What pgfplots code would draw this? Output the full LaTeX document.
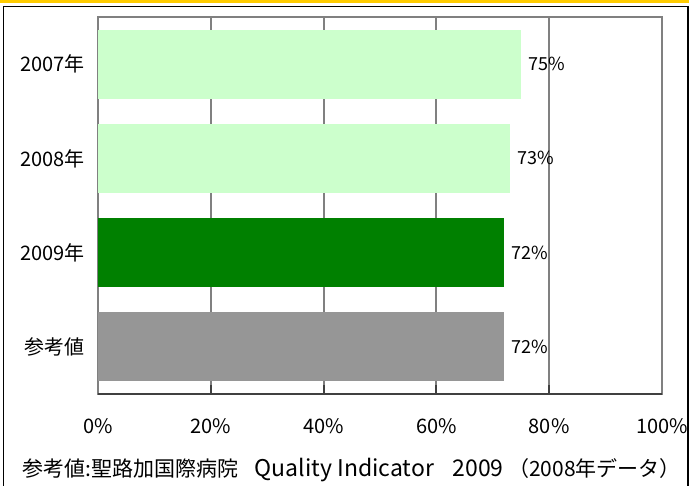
\documentclass[border=0pt]{standalone}
\usepackage{pgfplots}
\pgfplotsset{compat=1.18}
\usepackage{fontspec}
\setmainfont{Noto Sans CJK JP}
\definecolor{lgreen}{HTML}{CCFFCC}
\definecolor{dgreen}{HTML}{008000}
\definecolor{bgrey}{HTML}{969696}
\definecolor{orangeband}{HTML}{FFCC00}
\definecolor{gline}{HTML}{808080}
\definecolor{dline}{HTML}{404040}
\begin{document}
\begin{tikzpicture}
\useasboundingbox (0,0) rectangle (689bp,486bp);
\fill[orangeband] (0,482.5bp) rectangle (689bp,486bp);
\draw[black, line width=1.5bp] (3.5bp,-3bp) -- (3.5bp,479.5bp) -- (688bp,479.5bp) -- (688bp,-3bp);
\begin{axis}[
  at={(98bp,92bp)}, anchor=south west,
  scale only axis, width=564bp, height=377bp,
  xmin=0, xmax=100, ymin=-0.5, ymax=3.5,
  xbar, bar width=69bp, bar shift=0pt,
  xtick={0,20,40,60,80,100},
  xticklabels={0\%,20\%,40\%,60\%,80\%,100\%},
  ytick={0,1,2,3},
  yticklabels={参考値,2009年,2008年,2007年},
  xmajorgrids, grid style={gline, line width=2bp},
  axis line style={gline, line width=2bp},
  xtick pos=bottom, ytick style={draw=none},
  x tick style={dline, line width=2bp},
  major tick length=9bp,
  tick align=inside,
  ticklabel style={font=\fontsize{20bp}{23bp}\selectfont},
  xticklabel style={yshift=-21bp},
  yticklabel style={xshift=-10bp},
  /pgf/number format/assume math mode=true,
  nodes near coords={\pgfmathprintnumber{\pgfplotspointmeta}\%},
  nodes near coords style={font=\fontsize{18bp}{21bp}\selectfont, anchor=west, xshift=4bp},
  point meta=x,
  clip=false,
]
\addplot[fill=bgrey, draw=none] coordinates {(72,0)};
\addplot[fill=dgreen, draw=none] coordinates {(72,1)};
\addplot[fill=lgreen, draw=none] coordinates {(73,2)};
\addplot[fill=lgreen, draw=none] coordinates {(75,3)};
\draw[dline, line width=2bp] (rel axis cs:0,0) -- (rel axis cs:1,0);
\end{axis}
\node[anchor=west, inner sep=0pt, font=\fontsize{21bp}{24bp}\selectfont] at (22bp,16bp) {参考値:聖路加国際病院\hspace{0.8em}{\fontsize{23bp}{24bp}\selectfont Quality Indicator\hspace{0.8em}2009} （2008年データ）};
\end{tikzpicture}
\end{document}
